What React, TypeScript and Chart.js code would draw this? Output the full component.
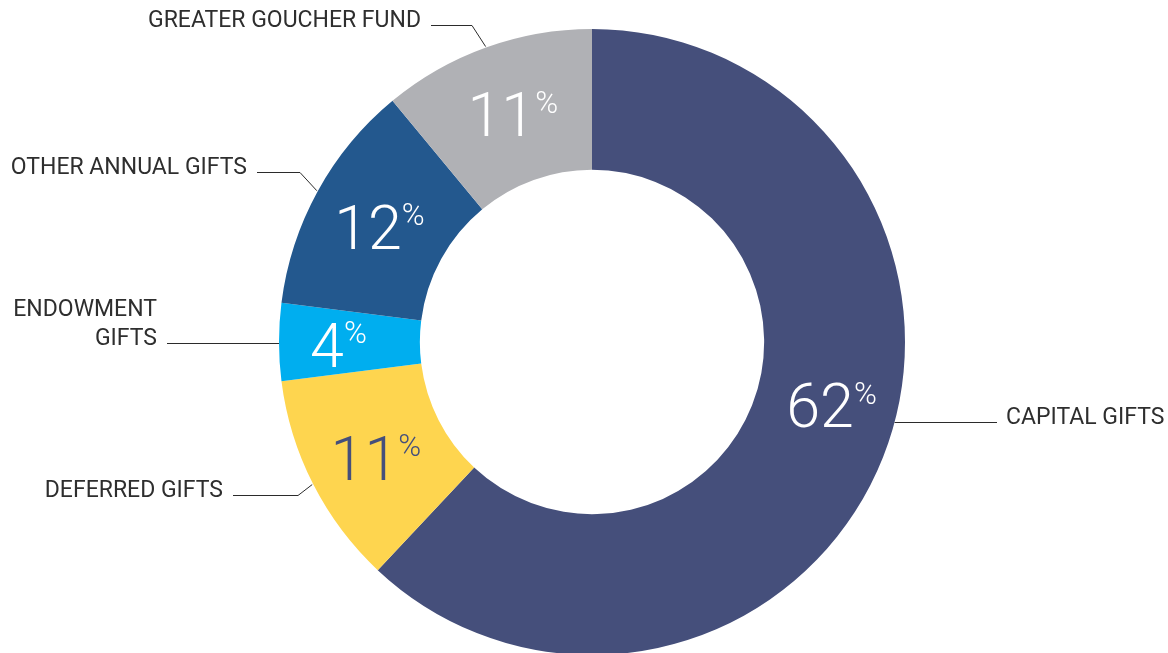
import React, { useEffect, useRef } from "react";
import { Chart, registerables } from "chart.js";

Chart.register(...registerables);

const categories = ["CAPITAL GIFTS", "DEFERRED GIFTS", "ENDOWMENT GIFTS", "OTHER ANNUAL GIFTS", "GREATER GOUCHER FUND"];
const values = [62, 11, 4, 12, 11];
const colors = ["#454F7B", "#FED54F", "#00AEEF", "#23588E", "#B0B1B5"];
const numberColors = ["#FFFFFF", "#454F7B", "#FFFFFF", "#FFFFFF", "#FFFFFF"];
const labelLines = [["CAPITAL GIFTS"], ["DEFERRED GIFTS"], ["ENDOWMENT", "GIFTS"], ["OTHER ANNUAL GIFTS"], ["GREATER GOUCHER FUND"]];

// label layout relative to chart centre (code-side positioning)
const layout = [
  { side: 1, lineDy: 80, lineEnd: 405, elbow: null, pct: [14, -26] },
  { side: -1, lineDy: 153, lineEnd: -359, elbow: -294, pct: [0, 6] },
  { side: -1, lineDy: 1, lineEnd: -425, elbow: null, pct: [-11, 3] },
  { side: -1, lineDy: -170, lineEnd: -335, elbow: -292, pct: [0, 2] },
  { side: -1, lineDy: -317, lineEnd: -161, elbow: -120, pct: [3, 1] },
];

const labelPlugin = {
  id: "donutLabels",
  afterDatasetsDraw(chart: any) {
    const ctx = chart.ctx;
    const meta = chart.getDatasetMeta(0);
    meta.data.forEach((arc: any, i: number) => {
      const { x: cx, y: cy, startAngle, endAngle, innerRadius, outerRadius } = arc.getProps(
        ["x", "y", "startAngle", "endAngle", "innerRadius", "outerRadius"],
        true
      );
      const mid = (startAngle + endAngle) / 2;
      const rMid = (innerRadius + outerRadius) / 2;
      const L = layout[i];
      const px = cx + Math.cos(mid) * rMid + L.pct[0];
      const py = cy + Math.sin(mid) * rMid + L.pct[1];
      const numSize = 61;
      const pctSize = 31;
      ctx.save();
      ctx.fillStyle = numberColors[i];
      ctx.textBaseline = "alphabetic";
      ctx.textAlign = "left";
      const numText = String(values[i]);
      ctx.font = `300 ${numSize}px Roboto`;
      const wNum = ctx.measureText(numText).width;
      ctx.font = `300 ${pctSize}px Roboto`;
      const wPct = ctx.measureText("%").width;
      const gap = 0;
      const total = wNum + gap + wPct;
      const x0 = px - total / 2;
      const H = numSize * 0.711;
      ctx.font = `300 ${numSize}px Roboto`;
      ctx.fillText(numText, x0, py + H / 2);
      ctx.font = `300 ${pctSize}px Roboto`;
      ctx.fillText("%", x0 + wNum + gap, py - H / 2 + pctSize * 0.711 - 2);
      ctx.restore();

      ctx.save();
      ctx.strokeStyle = "#2b2b2b";
      ctx.lineWidth = 1;
      ctx.beginPath();
      const ly = cy + L.lineDy + 0.5;
      const lxEnd = cx + L.lineEnd;
      if (L.elbow === null) {
        const dx = Math.sqrt(Math.max(outerRadius * outerRadius - L.lineDy * L.lineDy, 0));
        ctx.moveTo(cx + L.side * dx, ly);
        ctx.lineTo(lxEnd, ly);
      } else {
        ctx.moveTo(cx + Math.cos(mid) * (outerRadius + 1), cy + Math.sin(mid) * (outerRadius + 1));
        ctx.lineTo(cx + L.elbow, ly);
        ctx.lineTo(lxEnd, ly);
      }
      ctx.stroke();
      ctx.restore();

      ctx.save();
      ctx.fillStyle = "#2e2e2e";
      ctx.font = "400 23px Roboto";
      ctx.textBaseline = "alphabetic";
      const lines = labelLines[i];
      const tx = L.side > 0 ? lxEnd + 9 : lxEnd - 10;
      ctx.textAlign = L.side > 0 ? "left" : "right";
      const baseY = cy + L.lineDy + 2;
      lines.forEach((t: string, k: number) => {
        ctx.fillText(t, tx, baseY - (lines.length - 1 - k) * 29);
      });
      ctx.restore();
    });
  },
};

export default function App() {
  const ref = useRef<HTMLCanvasElement>(null);
  useEffect(() => {
    document.body.style.margin = "0";
    const chart = new Chart(ref.current as HTMLCanvasElement, {
      type: "doughnut",
      data: {
        labels: categories,
        datasets: [
          {
            data: values,
            backgroundColor: colors,
            borderWidth: 0,
            clip: false as any,
          },
        ],
      },
      options: {
        responsive: false,
        animation: false,
        devicePixelRatio: 1,
        radius: 313,
        cutout: "55%",
        layout: { padding: { top: 31, bottom: 0, left: 16, right: 0 } },
        plugins: {
          legend: { display: false },
          tooltip: { enabled: false },
        },
      } as any,
      plugins: [labelPlugin],
    });
    return () => chart.destroy();
  }, []);
  return (
    <div style={{ position: "fixed", left: 0, top: 0, width: 1168, height: 653, background: "#fff" }}>
      <canvas ref={ref} width={1168} height={653} />
    </div>
  );
}
